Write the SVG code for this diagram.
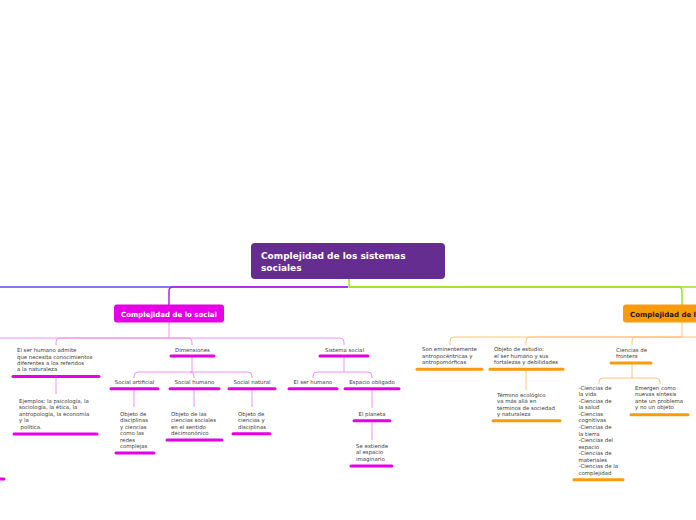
<svg xmlns="http://www.w3.org/2000/svg" width="696" height="520" viewBox="0 0 696 520">
<style>
.t{font-family:"DejaVu Sans",Verdana,sans-serif;font-size:5.4px;fill:#3a3a3a}
.c{text-anchor:middle}
.nt{font-family:"DejaVu Sans",Verdana,sans-serif;font-weight:bold}
.um{stroke:#e600e6;stroke-width:3;stroke-linecap:round;fill:none}
.uo{stroke:#f99b0c;stroke-width:3;stroke-linecap:round;fill:none}
.lp{stroke:#f48ff4;stroke-width:1;fill:none}
.lo{stroke:#fcc77a;stroke-width:1;fill:none}
</style>
<rect width="696" height="520" fill="#ffffff"/>
<g id="connectors">
<path d="M348 287 H0" stroke="#5a4af0" stroke-width="1.5" fill="none"/>
<path d="M348 287 H173 Q169 287 169 291 V305" stroke="#b820e6" stroke-width="1.5" fill="none"/>
<path d="M349 287 H696" stroke="#9de21f" stroke-width="1.5" fill="none"/>
<path d="M349 279 V287 H678 Q682 287 682 291 V305" stroke="#9de21f" stroke-width="1.5" fill="none"/>
<path class="lp" d="M169 322 V338 H60 Q56 338 56 342 V345"/>
<path class="lp" d="M169 338 H0"/>
<path class="lp" d="M169 338 H188 Q192 338 192 342 V345"/>
<path class="lp" d="M169 338 H340 Q344 338 344 342 V345"/>
<path class="lp" d="M56 378 V394"/>
<path class="lp" d="M192 357 V372 H138 Q134 372 134 376 V378"/>
<path class="lp" d="M192 372 H190 Q194 372 194 376 V378"/>
<path class="lp" d="M192 372 H248 Q252 372 252 376 V378"/>
<path class="lp" d="M134 390 V407"/>
<path class="lp" d="M194 390 V407"/>
<path class="lp" d="M252 390 V407"/>
<path class="lp" d="M344 357 V372 H317 Q313 372 313 376 V378"/>
<path class="lp" d="M344 372 H368 Q372 372 372 376 V378"/>
<path class="lp" d="M372 390 V408"/>
<path class="lp" d="M372 422 V440"/>
<path class="lo" d="M682 322 V337 H454 Q450 337 450 341 V345"/>
<path class="lo" d="M682 337 H530 Q526 337 526 341 V345"/>
<path class="lo" d="M682 337 H636 Q632 337 632 341 V345"/>
<path class="lo" d="M682 337 H696"/>
<path class="lo" d="M526 371 V390"/>
<path class="lo" d="M632 364 V378 H603 Q599 378 599 382 V384"/>
<path class="lo" d="M632 378 H656 Q660 378 660 382 V384"/>
</g>
<g id="root">
<rect x="251" y="243" width="194" height="36" rx="4" fill="#662d91"/>
<text class="nt" x="261" y="259" font-size="9" fill="#ffffff">Complejidad de los sistemas</text>
<text class="nt" x="261" y="271" font-size="9" fill="#ffffff">sociales</text>
</g>
<g id="n-social">
<rect x="114" y="304.5" width="110" height="18" rx="3" fill="#e600e6"/>
<text class="nt" x="169" y="317" font-size="7" fill="#ffffff" text-anchor="middle">Complejidad de lo social</text>
</g>
<g id="n-orange">
<rect x="623" y="304.5" width="90" height="18" rx="3" fill="#f99b0c"/>
<text class="nt" x="630" y="317" font-size="7" fill="#1a1a1a">Complejidad de l</text>
</g>
<g id="n-admite">
<text class="t" x="17" y="352.2">El ser humano admite</text>
<text class="t" x="17" y="358.6">que necesita conocimientos</text>
<text class="t" x="17" y="365">diferentes a los referidos</text>
<text class="t" x="17" y="371.4">a la naturaleza</text>
<path class="um" d="M13 376.5 H99"/>
</g>
<g id="n-ejemplos">
<text class="t" x="19" y="403">Ejemplos: la psicología, la</text>
<text class="t" x="19" y="409.4">sociología, la ética, la</text>
<text class="t" x="19" y="415.8">antropología, la economía</text>
<text class="t" x="19" y="422.2">y la</text>
<text class="t" x="20.5" y="428.6">política.</text>
<path class="um" d="M14 434 H97"/>
</g>
<g id="n-offleft">
<path class="um" d="M-3 479 H4"/>
</g>
<g id="n-dimensiones">
<text class="t c" x="192.5" y="352">Dimensiones</text>
<path class="um" d="M171 356 H214"/>
</g>
<g id="n-artificial">
<text class="t c" x="134.5" y="384">Social artificial</text>
<path class="um" d="M111 388.7 H158"/>
</g>
<g id="n-humano">
<text class="t c" x="194.5" y="384">Social humano</text>
<path class="um" d="M170 388.7 H219"/>
</g>
<g id="n-natural">
<text class="t c" x="252" y="384">Social natural</text>
<path class="um" d="M229 388.7 H275"/>
</g>
<g id="n-obj-disc">
<text class="t" x="120" y="416">Objeto de</text>
<text class="t" x="120" y="422.4">disciplinas</text>
<text class="t" x="120" y="428.8">y ciencias</text>
<text class="t" x="120" y="435.2">como las</text>
<text class="t" x="120" y="441.6">redes</text>
<text class="t" x="120" y="448">complejas</text>
<path class="um" d="M116 453 H154"/>
</g>
<g id="n-obj-cs">
<text class="t" x="171" y="416">Objeto de las</text>
<text class="t" x="171" y="422.4">ciencias sociales</text>
<text class="t" x="171" y="428.8">en el sentido</text>
<text class="t" x="171" y="435.2">decimonónico</text>
<path class="um" d="M167 440 H222"/>
</g>
<g id="n-obj-cd">
<text class="t" x="238" y="416">Objeto de</text>
<text class="t" x="238" y="422.4">ciencias y</text>
<text class="t" x="238" y="428.8">disciplinas</text>
<path class="um" d="M233 433.7 H270"/>
</g>
<g id="n-sistema">
<text class="t c" x="344.5" y="352">Sistema social</text>
<path class="um" d="M320 356 H368"/>
</g>
<g id="n-serhumano">
<text class="t c" x="313" y="384">El ser humano</text>
<path class="um" d="M289 388.7 H337"/>
</g>
<g id="n-espacio">
<text class="t c" x="372" y="384">Espacio obligado</text>
<path class="um" d="M345 388.7 H399"/>
</g>
<g id="n-planeta">
<text class="t c" x="372" y="416">El planeta</text>
<path class="um" d="M354 420.7 H390"/>
</g>
<g id="n-extiende">
<text class="t" x="356" y="448">Se extiende</text>
<text class="t" x="356" y="454.4">al espacio</text>
<text class="t" x="356" y="460.8">imaginario</text>
<path class="um" d="M351 466 H392"/>
</g>
<g id="n-antropo">
<text class="t" x="422" y="351.3">Son eminentemente</text>
<text class="t" x="422" y="357.7">antropocéntricas y</text>
<text class="t" x="422" y="364.1">antropomórficas</text>
<path class="uo" d="M417 369.3 H482"/>
</g>
<g id="n-objeto">
<text class="t" x="494" y="351.3">Objeto de estudio:</text>
<text class="t" x="494" y="357.7">el ser humano y sus</text>
<text class="t" x="494" y="364.1">fortalezas y debilidades</text>
<path class="uo" d="M490 369.3 H563"/>
</g>
<g id="n-termino">
<text class="t" x="497" y="397">Término ecológico</text>
<text class="t" x="497" y="403.4">va más allá en</text>
<text class="t" x="497" y="409.8">términos de sociedad</text>
<text class="t" x="497" y="416.2">y naturaleza</text>
<path class="uo" d="M493 420.7 H560"/>
</g>
<g id="n-frontera">
<text class="t" x="616" y="352">Ciencias de</text>
<text class="t" x="616" y="358.4">frontera</text>
<path class="uo" d="M611 363 H651"/>
</g>
<g id="n-lista">
<text class="t" x="578.5" y="389.7">-Ciencias de</text>
<text class="t" x="578.5" y="396.25">la vida</text>
<text class="t" x="578.5" y="402.8">-Ciencias de</text>
<text class="t" x="578.5" y="409.35">la salud</text>
<text class="t" x="578.5" y="415.9">-Ciencias</text>
<text class="t" x="578.5" y="422.45">cognitivas</text>
<text class="t" x="578.5" y="429">-Ciencias de</text>
<text class="t" x="578.5" y="435.55">la tierra</text>
<text class="t" x="578.5" y="442.1">-Ciencias del</text>
<text class="t" x="578.5" y="448.65">espacio</text>
<text class="t" x="578.5" y="455.2">-Ciencias de</text>
<text class="t" x="578.5" y="461.75">materiales</text>
<text class="t" x="578.5" y="468.3">-Ciencias de la</text>
<text class="t" x="578.5" y="474.85">complejidad</text>
<path class="uo" d="M574 479.7 H623"/>
</g>
<g id="n-emergen">
<text class="t" x="635" y="389.7">Emergen como</text>
<text class="t" x="635" y="396.25">nuevas síntesis</text>
<text class="t" x="635" y="402.8">ante un problema</text>
<text class="t" x="635" y="409.35">y no un objeto</text>
<path class="uo" d="M631 414.7 H688"/>
</g>
</svg>
